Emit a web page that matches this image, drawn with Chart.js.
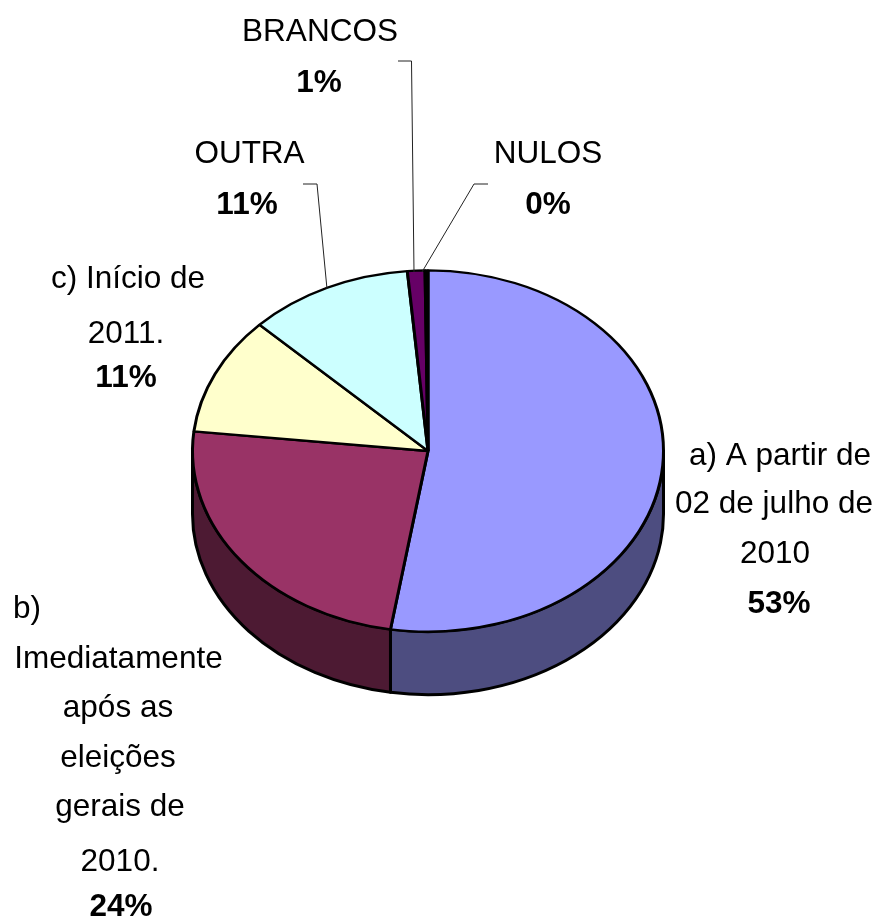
<!DOCTYPE html>
<html><head><meta charset="utf-8">
<style>html,body{margin:0;padding:0;background:#fff}#w{width:879px;height:920px;position:relative}</style>
<script src="https://cdn.jsdelivr.net/npm/chart.js@4/dist/chart.umd.min.js"></script>
</head><body><div id="w"><canvas id="c" width="879" height="920"></canvas></div>
<script>
const categories = ["a) A partir de 02 de julho de 2010","b) Imediatamente após as eleições gerais de 2010.","c) Início de 2011.","OUTRA","BRANCOS","NULOS"];
const values = [52.6,24.2,10.6,11.3,1.2,0.2];
const faceColors = ["#9999ff","#993366","#ffffcc","#ccffff","#660066","#ff8080"];
const wallColors = ["#4d4d80","#4d1a33","#808066","#668080","#330033","#804040"];
const labelLines = [
  [["a) A partir de",780,465],["02 de julho de",774,513],["2010",775,563],["53%",779,613,1]],
  [["b)",13,618,0,"left"],["Imediatamente",118.5,668],["após as",118,717],["eleições",118,767],["gerais de",120,816],["2010.",120,871],["24%",121,916,1]],
  [["c) Início de",128,288],["2011.",126,343],["11%",126,387,1]],
  [["OUTRA",249.5,163],["11%",247,214,1]],
  [["BRANCOS",320,41],["1%",319,92,1]],
  [["NULOS",548,163],["0%",548,214,1]]
];
const leaderLines = [
  [[303,184],[317,184],[327,289]],
  [[398,61],[411.5,61],[414,272]],
  [[488,184],[474,184],[422,272]]
];
const tilt = 0.767, depth = 63, fontPx = 31.5;

const pie3d = {
  id:'pie3d',
  beforeDatasetsDraw(chart){
    const ctx = chart.ctx, arcs = chart.getDatasetMeta(0).data;
    arcs.forEach((el,i)=>{
      const a0 = Math.max(el.startAngle,0), a1 = Math.min(el.endAngle,Math.PI);
      if(a1<=a0) return;
      const r = el.outerRadius, ry = r*tilt;
      ctx.save();
      ctx.beginPath();
      ctx.ellipse(el.x,el.y,r,ry,0,a0,a1);
      ctx.ellipse(el.x,el.y+depth,r,ry,0,a1,a0,true);
      ctx.closePath();
      ctx.fillStyle = wallColors[i];
      ctx.fill();
      ctx.lineWidth = 3; ctx.strokeStyle = '#000'; ctx.lineJoin='round';
      ctx.stroke();
      ctx.restore();
    });
    const a = arcs[0];
    ctx.save();
    ctx.translate(a.x,a.y); ctx.scale(1,tilt); ctx.translate(-a.x,-a.y);
  },
  afterDatasetsDraw(chart){ chart.ctx.restore(); },
  afterDraw(chart){
    const ctx = chart.ctx;
    ctx.save();
    ctx.strokeStyle = '#222'; ctx.lineWidth = 1;
    leaderLines.forEach(l=>{
      ctx.beginPath();
      l.forEach((p,i)=> i? ctx.lineTo(p[0],p[1]) : ctx.moveTo(p[0],p[1]));
      ctx.stroke();
    });
    ctx.fillStyle='#000'; ctx.textBaseline='alphabetic';
    const reg = fontPx+'px "Liberation Sans"', bold = 'bold '+fontPx+'px "Liberation Sans"';
    labelLines.flat().forEach(([t,x,y,b,al])=>{
      ctx.font = b?bold:reg;
      ctx.textAlign = al||'center';
      ctx.fillText(t,x,y);
    });
    ctx.restore();
  }
};

new Chart(document.getElementById('c'),{
  type:'pie',
  data:{labels:categories,datasets:[{data:values,backgroundColor:faceColors,borderColor:'#000',borderWidth:3,clip:false}]},
  options:{
    responsive:false,animation:false,
    layout:{padding:{left:191,right:214,top:214,bottom:232}},
    plugins:{legend:{display:false},tooltip:{enabled:false},title:{display:false}}
  },
  plugins:[pie3d]
});
</script></body></html>
